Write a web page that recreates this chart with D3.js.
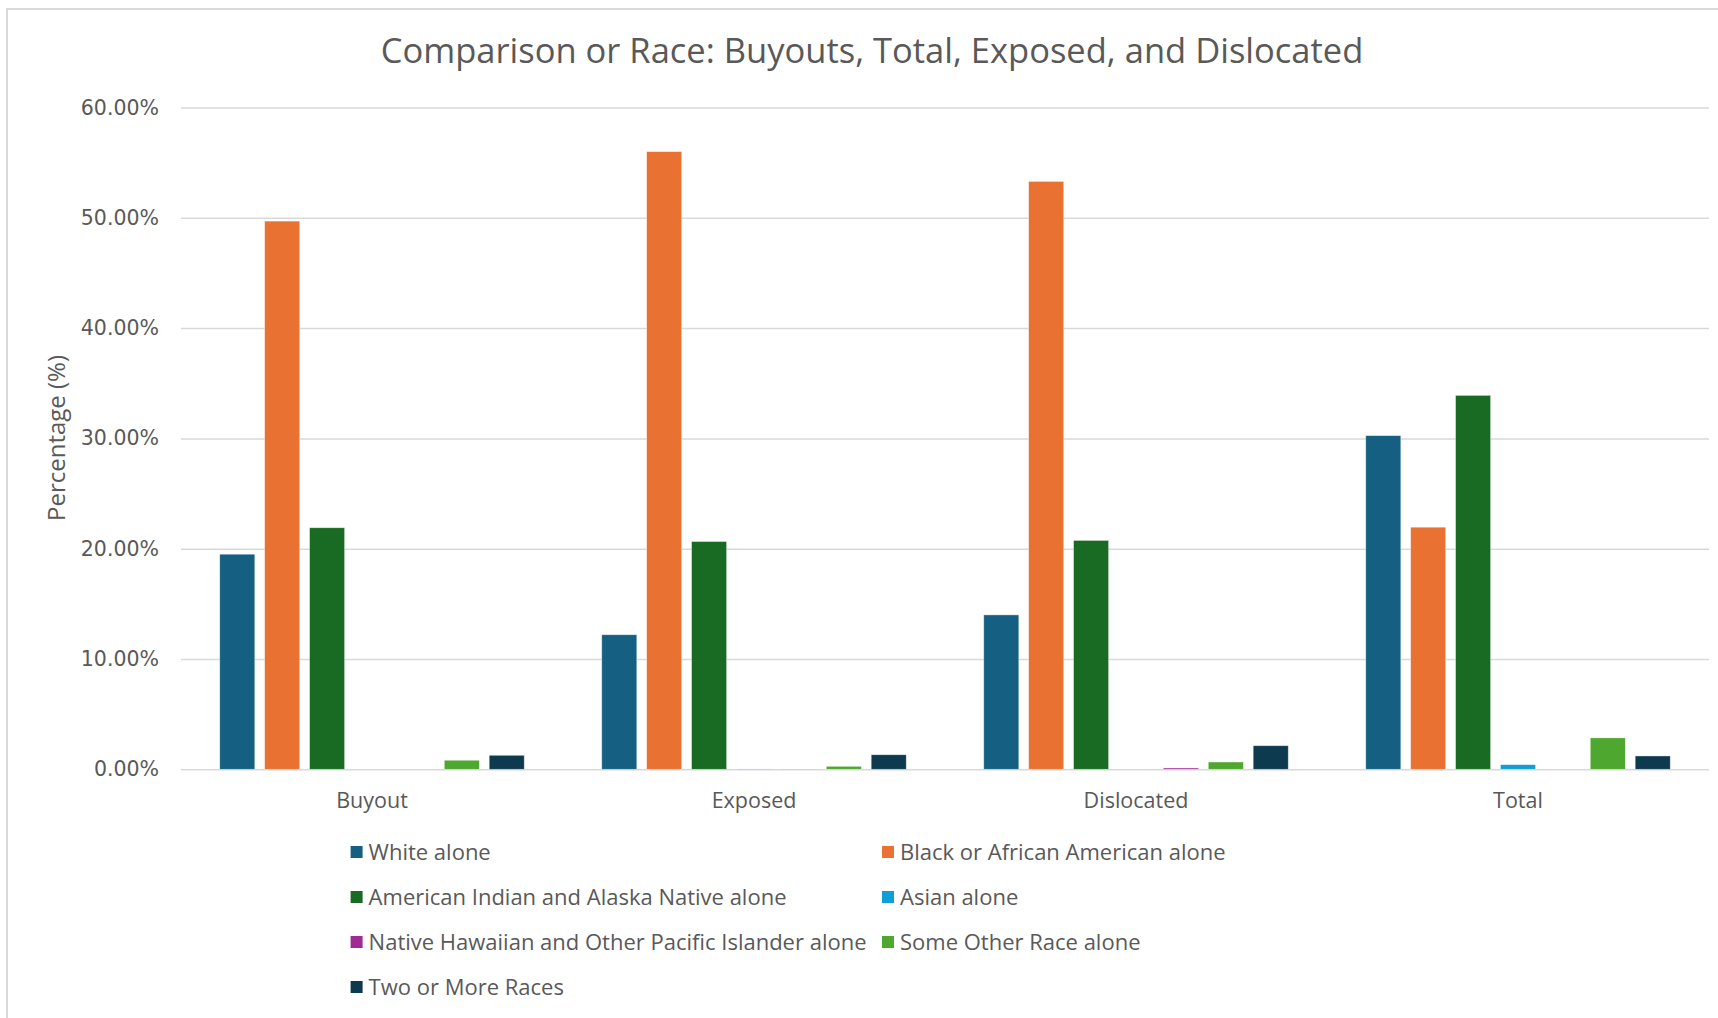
<!DOCTYPE html>
<html>
<head>
<meta charset="utf-8">
<script src="https://cdn.jsdelivr.net/npm/d3@7"></script>
<style>
  html, body { margin: 0; padding: 0; background: #fff; }
  svg { display: block; }
</style>
</head>
<body>
<svg id="chart" width="1718" height="1018"></svg>
<script>
// ---- data ----
const categories = ["Buyout", "Exposed", "Dislocated", "Total"];
const seriesNames = [
  "White alone",
  "Black or African American alone",
  "American Indian and Alaska Native alone",
  "Asian alone",
  "Native Hawaiian and Other Pacific Islander alone",
  "Some Other Race alone",
  "Two or More Races"
];
const seriesColors = ["#156082", "#E97132", "#196B24", "#0F9ED5", "#A02B93", "#4EA72E", "#0D3A4F"];
// values in percent, one array per series, ordered as categories
const whiteAlone    = [19.5, 12.2, 14.0, 30.25];
const blackAlone    = [49.7, 56.0, 53.3, 21.95];
const amIndianAlone = [21.9, 20.65, 20.75, 33.9];
const asianAlone    = [0.0, 0.03, 0.0, 0.42];
const nhpiAlone     = [0.0, 0.02, 0.12, 0.0];
const otherAlone    = [0.82, 0.27, 0.66, 2.85];
const twoOrMore     = [1.27, 1.32, 2.14, 1.21];
const seriesValues = [whiteAlone, blackAlone, amIndianAlone, asianAlone, nhpiAlone, otherAlone, twoOrMore];
const yTicks = [0, 10, 20, 30, 40, 50, 60];
const titleText = "Comparison or Race: Buyouts, Total, Exposed, and Dislocated";
const yAxisTitle = "Percentage (%)";

// ---- layout ----
const svg = d3.select("#chart");
const W = 1718, H = 1018;
const plot = { left: 181, right: 1709, top: 107.5, bottom: 769.3 };
const uiFont = "'Open Sans', 'Noto Sans', sans-serif";
const tickFont = "'DejaVu Sans', sans-serif";
const textColor = "#595959";

// chart border
svg.append("path")
  .attr("d", `M7,${H} L7,9 L${W},9`)
  .attr("fill", "none").attr("stroke", "#d9d9d9").attr("stroke-width", 2);

const x0 = d3.scaleBand().domain(categories).range([plot.left, plot.right]).paddingInner(0).paddingOuter(0);
const bandW = x0.bandwidth();
const step = bandW * 41 / 348.75;
const barW = bandW * 32 / 348.75;
const x1 = d3.scaleBand().domain(seriesNames)
  .range([bandW / 2 - step * 3.5, bandW / 2 + step * 3.5]).padding(0);
const y = d3.scaleLinear().domain([0, 60]).range([plot.bottom, plot.top]);

// gridlines via axis
const grid = svg.append("g")
  .attr("transform", `translate(${plot.left},0)`)
  .call(d3.axisLeft(y).tickValues(yTicks).tickSize(-(plot.right - plot.left)).tickFormat(""));
grid.select(".domain").remove();
grid.selectAll(".tick line").attr("stroke", "#d9d9d9").attr("stroke-width", 1.5);

// y tick labels
const yAxis = svg.append("g")
  .attr("transform", `translate(${plot.left - 22},0)`)
  .call(d3.axisLeft(y).tickValues(yTicks).tickSize(0).tickPadding(0).tickFormat(d => d.toFixed(2) + "%"));
yAxis.select(".domain").remove();
yAxis.selectAll("text").attr("font-family", tickFont).attr("font-size", 20.5).attr("fill", textColor);

// bars
const rows = [];
categories.forEach((c, ci) => seriesNames.forEach((s, si) => rows.push({ c, s, si, v: seriesValues[si][ci] })));
svg.append("g").selectAll("rect").data(rows).join("rect")
  .attr("x", d => x0(d.c) + x1(d.s) + (step - barW) / 2)
  .attr("width", barW)
  .attr("y", d => y(d.v))
  .attr("height", d => Math.max(0, y(0) - y(d.v)))
  .attr("fill", d => seriesColors[d.si])
  .attr("stroke", "#ffffff").attr("stroke-opacity", 0.5).attr("stroke-width", 0.75);

// x axis labels
const xAxis = svg.append("g")
  .attr("transform", `translate(0,${plot.bottom})`)
  .call(d3.axisBottom(x0).tickSize(0).tickPadding(23));
xAxis.select(".domain").remove();
xAxis.selectAll("text").attr("font-family", uiFont).attr("font-size", 21.5).attr("fill", textColor);

// title
svg.append("text")
  .attr("x", 872).attr("y", 63)
  .attr("text-anchor", "middle")
  .attr("font-family", uiFont).attr("font-size", 34.5).attr("fill", textColor)
  .text(titleText);

// y axis title
svg.append("text")
  .attr("transform", `translate(65,438) rotate(-90)`)
  .attr("text-anchor", "middle")
  .attr("font-family", uiFont).attr("font-size", 24).attr("fill", textColor)
  .text(yAxisTitle);

// legend
const legendCols = [350.6, 882];
const legendRows = [852, 897, 942, 987];
const lg = svg.append("g").selectAll("g").data(seriesNames).join("g")
  .attr("transform", (d, i) => `translate(${legendCols[i % 2]},${legendRows[Math.floor(i / 2)]})`);
lg.append("rect").attr("x", 0).attr("y", -6).attr("width", 12).attr("height", 12)
  .attr("fill", (d, i) => seriesColors[i]);
lg.append("text").attr("x", 18).attr("y", 0).attr("dy", "0.35em")
  .attr("font-family", uiFont).attr("font-size", 22).attr("fill", textColor)
  .text(d => d);
</script>
</body>
</html>
